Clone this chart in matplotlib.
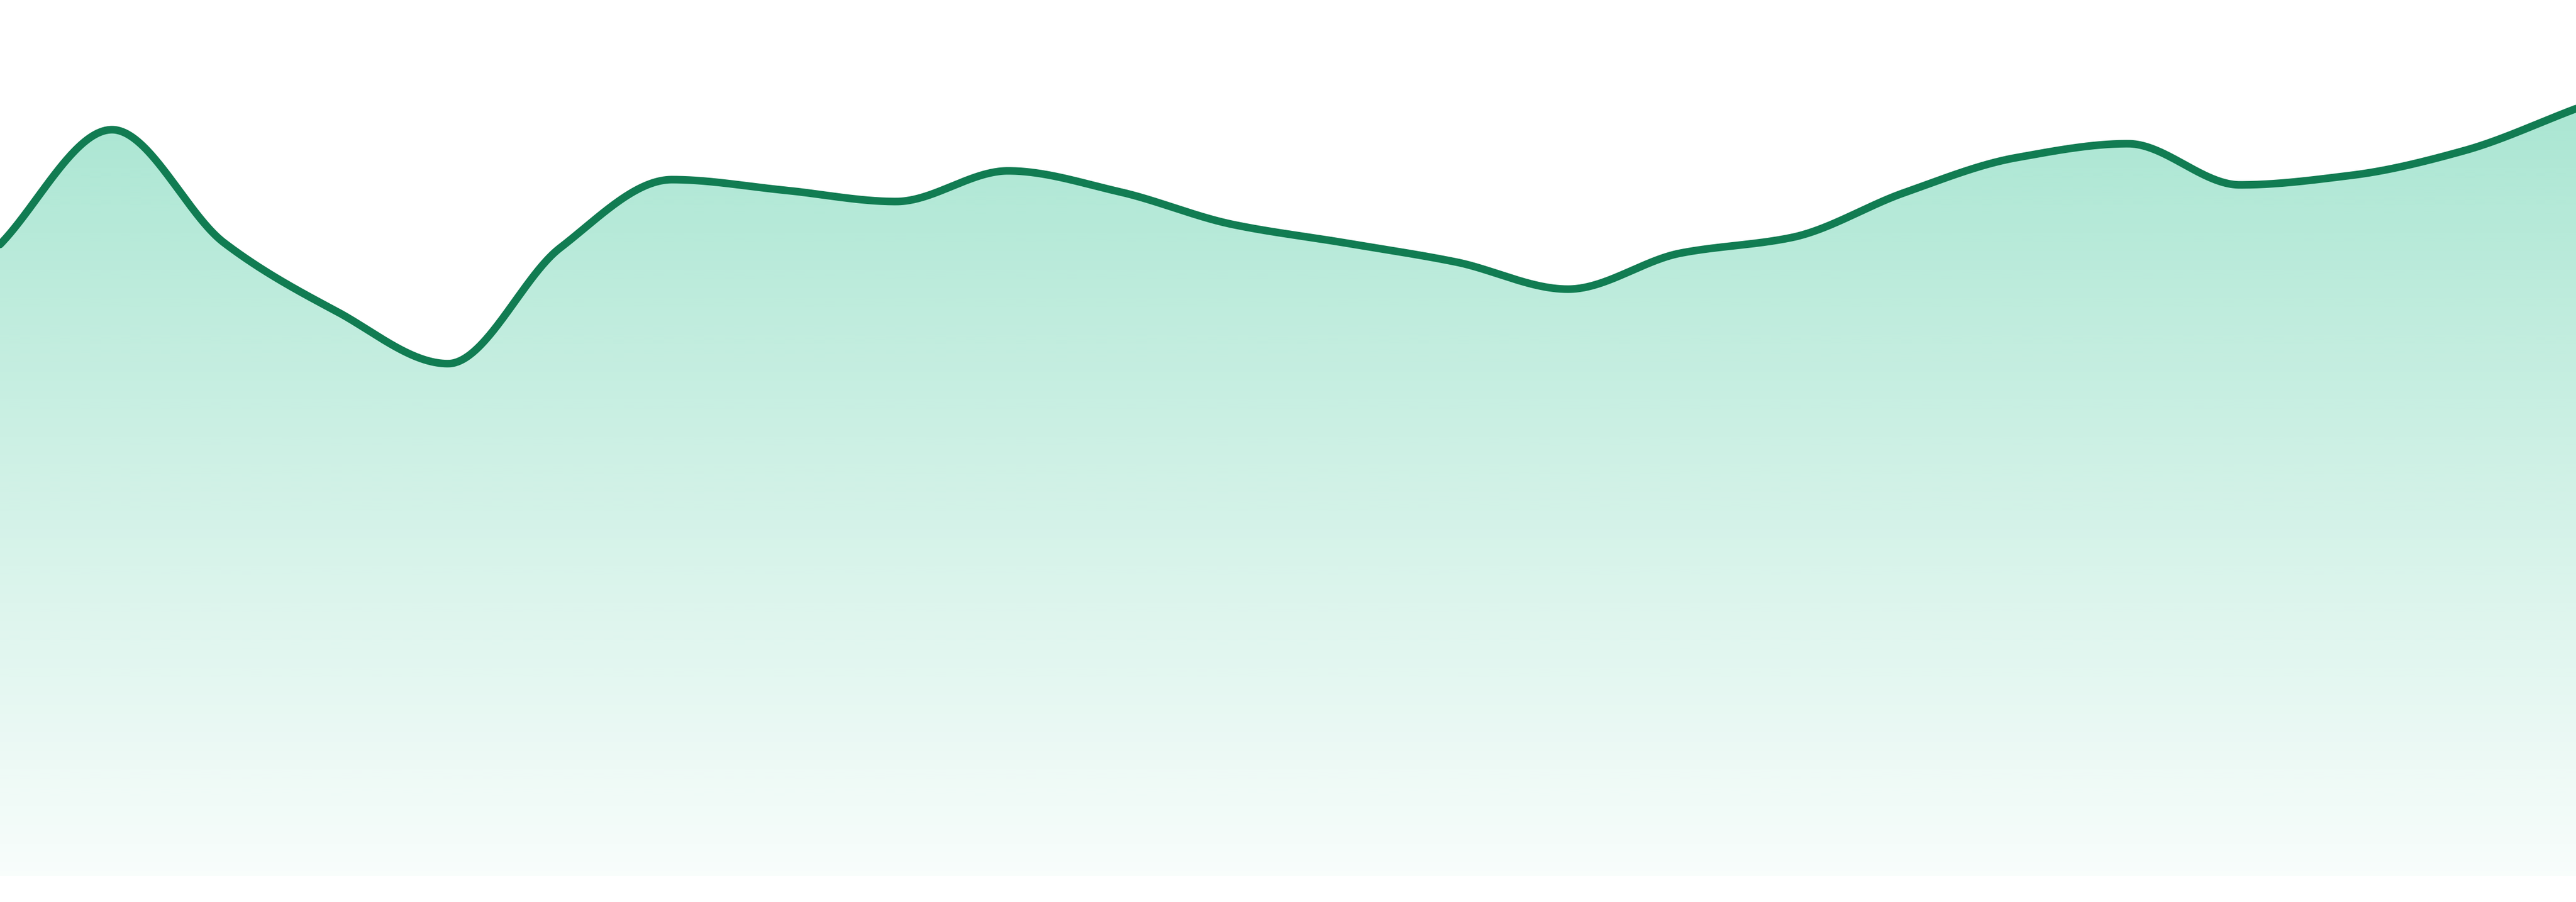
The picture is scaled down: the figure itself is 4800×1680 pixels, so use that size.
import numpy as np
import matplotlib
matplotlib.use('Agg')
import matplotlib.pyplot as plt
from matplotlib.colors import to_rgb

# data (0-100 scale)
points = list(range(24))
values = [72.1, 85.2, 72.3, 64.5, 58.5, 71.7, 79.5, 78.3, 77.0, 80.5, 78.1, 74.4,
          72.3, 70.1, 67.0, 71.1, 72.9, 78.0, 82.0, 83.6, 78.9, 80.0, 82.8, 87.6]

line_color = '#117c52'
fill_color = '#10b981'


def monotone(x, y, n=2000):
    # Fritsch-Carlson monotone cubic, like a d3 curveMonotoneX
    x = np.asarray(x, float)
    y = np.asarray(y, float)
    h = np.diff(x)
    d = np.diff(y) / h
    m = np.zeros_like(y)
    m[0], m[-1] = d[0], d[-1]
    for i in range(1, len(y) - 1):
        if d[i - 1] * d[i] <= 0:
            m[i] = 0
        else:
            w1 = 2 * h[i] + h[i - 1]
            w2 = h[i] + 2 * h[i - 1]
            m[i] = (w1 + w2) / (w1 / d[i - 1] + w2 / d[i])
    xs = np.linspace(x[0], x[-1], n)
    idx = np.clip(np.searchsorted(x, xs) - 1, 0, len(h) - 1)
    t = (xs - x[idx]) / h[idx]
    h00 = 2 * t**3 - 3 * t**2 + 1
    h10 = t**3 - 2 * t**2 + t
    h01 = -2 * t**3 + 3 * t**2
    h11 = t**3 - t**2
    ys = h00 * y[idx] + h10 * h[idx] * m[idx] + h01 * y[idx + 1] + h11 * h[idx] * m[idx + 1]
    return xs, ys


xs, ys = monotone(points, values)

fig = plt.figure(figsize=(16, 5.6), dpi=300)
ax = fig.add_axes([0, 48 / 1680, 1, 1632 / 1680])
ax.set_xlim(points[0], points[-1])
ax.set_ylim(0, 100)
ax.axis('off')

# gradient under the curve
poly = ax.fill_between(xs, ys, 0, facecolor='none', edgecolor='none')
rgb = to_rgb(fill_color)
alpha = np.linspace(0.03, 0.40, 256)
grad = np.zeros((256, 1, 4))
grad[:, 0, :3] = rgb
grad[:, 0, 3] = alpha
im = ax.imshow(grad, extent=[points[0], points[-1], 0, 100], origin='lower',
               aspect='auto', interpolation='bilinear', zorder=1)
im.set_clip_path(poly.get_paths()[0], transform=ax.transData)

ax.plot(xs, ys, color=line_color, lw=3.4, solid_capstyle='round', zorder=2)

fig.savefig('out.png', dpi=300, facecolor='white')
